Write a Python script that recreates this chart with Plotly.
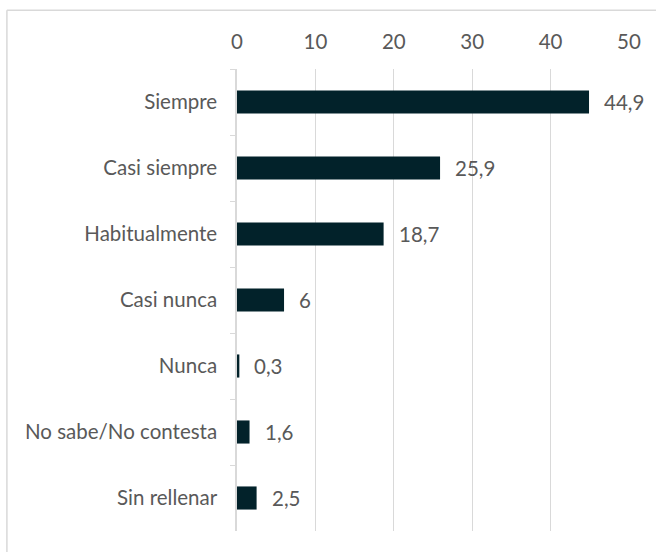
import plotly.graph_objects as go

categories = ["Siempre", "Casi siempre", "Habitualmente", "Casi nunca", "Nunca",
              "No sabe/No contesta", "Sin rellenar"]
values = [44.9, 25.9, 18.7, 6, 0.3, 1.6, 2.5]
x_ticks = [0, 10, 20, 30, 40, 50]

BAR = "#02222a"
TEXT = "#595959"
GRID = "#d9d9d9"
FONT = "Lato, Open Sans, sans-serif"
SIZE = 20.5


def fmt(v):
    s = f"{v:g}"
    return s.replace(".", ",")


fig = go.Figure(go.Bar(
    x=values, y=categories, orientation="h",
    marker=dict(color=BAR, line=dict(width=0)),
    width=0.35,
))

for c, v in zip(categories, values):
    fig.add_annotation(x=v, y=c, text=fmt(v), showarrow=False,
                       xanchor="left", xshift=13,
                       font=dict(size=SIZE, color=TEXT, family=FONT))

# chart-area border (top and left edges)
fig.add_shape(type="line", xref="paper", yref="paper",
              x0=-0.587, x1=1.1, y0=1.127, y1=1.127,
              line=dict(color=GRID, width=1.5))
fig.add_shape(type="line", xref="paper", yref="paper",
              x0=-0.587, x1=-0.587, y0=1.127, y1=-0.1,
              line=dict(color=GRID, width=1.5))

fig.update_layout(
    width=656, height=552,
    margin=dict(l=237, r=27, t=69, b=21),
    paper_bgcolor="white", plot_bgcolor="white",
    showlegend=False,
    font=dict(family=FONT, size=SIZE, color=TEXT),
    xaxis=dict(
        side="top", range=[0, 50], tickvals=x_ticks,
        showgrid=True, gridcolor=GRID, gridwidth=1,
        zeroline=False, showline=False, ticks="",
        ticklabelstandoff=15,
        tickfont=dict(size=SIZE, color=TEXT, family=FONT),
        fixedrange=True,
    ),
    yaxis=dict(
        autorange="reversed",
        showline=True, linecolor=GRID, linewidth=1.5,
        ticks="outside", tickson="boundaries", ticklen=5, tickcolor=GRID,
        ticklabelstandoff=14,
        showgrid=False,
        tickfont=dict(size=SIZE, color=TEXT, family=FONT),
        fixedrange=True,
    ),
)

fig.write_html("out.html")
